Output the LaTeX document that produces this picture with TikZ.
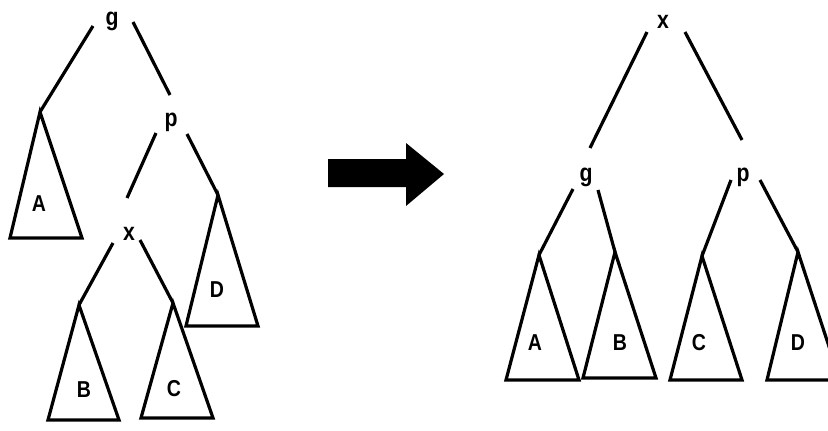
\documentclass[tikz,border=0pt]{standalone}
\usepackage{fontspec}
\setmainfont{Liberation Sans}[FakeStretch=0.85]
\begin{document}
\begin{tikzpicture}[x=1pt, y=-1pt, line width=3.2pt,
	every node/.style={font=\fontsize{23}{23}\selectfont\bfseries, inner sep=0pt},
	lowlabel/.style={font=\fontsize{25}{25}\selectfont\bfseries}]
\useasboundingbox (0,0) rectangle (828,431);
\clip (0,0) rectangle (828,431);
% before the rotation
\node[lowlabel] (lg) at (112,21) {g};
\node[lowlabel] (lp) at (171,122) {p};
\node[lowlabel] (lx) at (129,234) {x};
% after the rotation
\node[lowlabel] (rx) at (663,22) {x};
\node[lowlabel] (rg) at (586,177) {g};
\node[lowlabel] (rp) at (743,177) {p};
% subtrees: name/label/apex x/apex y/base left/base right/base y/label x/label y
\foreach \n/\t/\ax/\ay/\bl/\br/\by/\lx/\ly in {
	lA/A/40/112/10/82/238/39/204, lD/D/218/195/186/258/326/217/290,
	lB/B/79/305/48/119/420/84/390, lC/C/173/303/141/213/418/174/389,
	rA/A/539/255/506/579/380/535/343, rB/B/615/252/583/656/378/620/343,
	rC/C/702/256/670/742/380/699/343, rD/D/798/252/767/840/380/798/343} {
	\coordinate (\n) at (\ax,\ay);
	\draw[line join=miter] (\n) -- (\bl,\by) -- (\br,\by) -- cycle;
	\node (\n-label) at (\lx,\ly) {\t};
}
% free ends of the branches
\foreach \n/\px/\py in {
	lg1/93/26, lg2/133/22, lpt/170/95, lp1/156/133, lp2/187/134,
	lxt/127/198, lx1/113/243, lx2/140/240,
	rx1/647/32, rx2/685/32, rgt/590/148, rpt/742/140,
	rg1/573/189, rg2/598/190, rp1/731/180, rp2/760/180}
	\coordinate (\n) at (\px,\py);
\foreach \a/\b in {lg1/lA, lg2/lpt, lp1/lxt, lp2/lD, lx1/lB, lx2/lC,
	rx1/rgt, rx2/rpt, rg1/rA, rg2/rB, rp1/rC, rp2/rD}
	\draw (\a) -- (\b);
% the arrow
\fill (328,159) -- (406,159) -- (406,143) -- (444,174) -- (406,206)
	-- (406,187) -- (328,187) -- cycle;
\end{tikzpicture}
\end{document}
